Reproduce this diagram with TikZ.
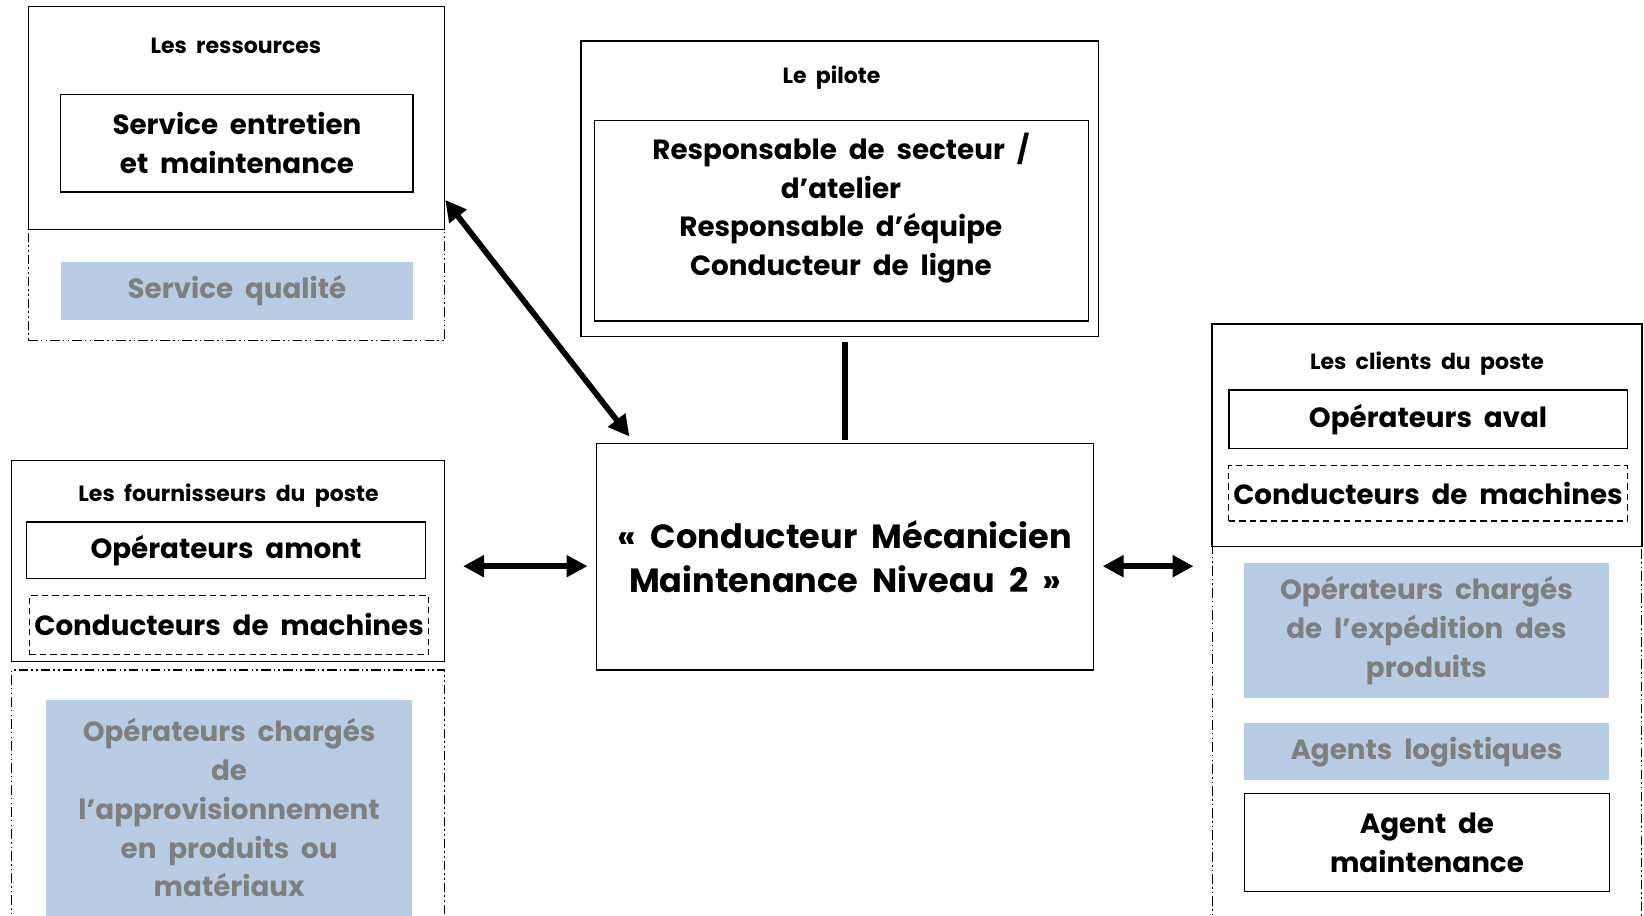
\documentclass[tikz,border=0pt]{standalone}
\usepackage{fontspec}
\setmainfont{Poppins}[WordSpace=2]
\usetikzlibrary{arrows.meta,calc}
\definecolor{greyfill}{HTML}{B8CCE4}
\definecolor{greytext}{HTML}{7F7F7F}
\begin{document}
\begin{tikzpicture}[x=1pt,y=-1pt,
  box/.style={draw, line width=1.3pt, inner sep=0pt},
  dbox/.style={draw, line width=1.2pt, dashed, dash pattern=on 6pt off 4pt, inner sep=0pt},
  ddbox/.style={draw, line width=1pt, dash pattern=on 9pt off 3pt on 1.5pt off 3pt on 1.5pt off 3pt, inner sep=0pt},
  gbox/.style={fill=greyfill, inner sep=0pt, text=greytext, align=center},
  smalltxt/.style={font=\fontsize{21}{24}\selectfont\bfseries, inner sep=0pt},
  bigtxt/.style={font=\fontsize{26.5}{37}\selectfont\bfseries, align=center},
  hugetxt/.style={font=\fontsize{32}{42}\selectfont\bfseries, align=center},
  conn/.style={line width=5.5pt, {Triangle[length=20pt,width=20pt]}-{Triangle[length=20pt,width=20pt]}}
]
\useasboundingbox (0,0) rectangle (1568,873);
\clip (0,0) rectangle (1568,873);

% Les ressources
\node[box, minimum width=397pt, minimum height=213pt] (resOut) at (225.5,112.5) {};
\node[smalltxt] (resT) at (225,44) {Les ressources};
\node[box, bigtxt, minimum width=336pt, minimum height=93pt] (resIn) at (226,136.5) {Service entretien\\et maintenance};
\node[ddbox, minimum width=397pt, minimum height=106pt] (resDD) at (225.5,272) {};
\node[gbox, bigtxt, minimum width=336pt, minimum height=55pt] (qual) at (226,277.5) {Service qualité};

% Le pilote
\node[box, minimum width=494pt, minimum height=282pt] (pilOut) at (801,180) {};
\node[smalltxt] (pilT) at (793,74) {Le pilote};
\node[box, minimum width=471pt, minimum height=191pt] (pilIn) at (802.5,210.5) {};
\node[bigtxt] (pilTxt) at (802,198.5) {Responsable de secteur /\\d’atelier\\Responsable d’équipe\\Conducteur de ligne};

% Central
\node[box, hugetxt, minimum width=474pt, minimum height=216pt] (central) at (806,531) {« Conducteur Mécanicien\\Maintenance Niveau 2 »};

% Fournisseurs
\node[box, minimum width=413pt, minimum height=192pt] (fournOut) at (217.5,535) {};
\node[smalltxt] (fournT) at (218,473) {Les fournisseurs du poste};
\node[box, bigtxt, minimum width=381pt, minimum height=54pt] (amont) at (215.5,525) {Opérateurs amont};
\node[dbox, bigtxt, minimum width=381pt, minimum height=56pt] (fDash) at (218.5,596) {Conducteurs de machines};
\node[ddbox, minimum width=413pt, minimum height=261pt] (fDD) at (217.5,769.5) {};
\node[gbox, minimum width=349pt, minimum height=232pt] (fGrey) at (218.5,784) {};
\node[bigtxt, text=greytext] (fGreyT) at (218.5,770.5) {Opérateurs chargés\\de\\l’approvisionnement\\en produits ou\\matériaux};

% Clients
\node[box, minimum width=410pt, minimum height=212pt] (clOut) at (1361,415) {};
\node[smalltxt] (clT) at (1361,347) {Les clients du poste};
\node[box, bigtxt, minimum width=380pt, minimum height=56pt] (aval) at (1362,400) {Opérateurs aval};
\node[dbox, bigtxt, minimum width=380pt, minimum height=53pt] (cDash) at (1362,470.5) {Conducteurs de machines};
\node[ddbox, minimum width=410pt, minimum height=379pt] (cDD) at (1361,710.5) {};
\node[gbox, bigtxt, minimum width=349pt, minimum height=129pt] (cGrey1) at (1360.5,601.5) {Opérateurs chargés\\de l’expédition des\\produits};
\node[gbox, bigtxt, minimum width=349pt, minimum height=54pt] (cGrey2) at (1360.5,717) {Agents logistiques};
\node[box, bigtxt, minimum width=348pt, minimum height=93pt] (agent) at (1361,803.5) {Agent de\\maintenance};

% Connectors
\coordinate (d1) at ([yshift=29pt]resOut.south east);
\coordinate (d2) at ([xshift=32pt,yshift=6pt]central.north west);
\draw[conn] (d1) -- (d2);
\draw[line width=6pt] ($(pilOut.south)+(5,5)$) -- ($(central.north)+(0,-3)$);
\draw[conn] ($(fournOut.east)+(17,5)$) -- ($(central.west)+(-8,9)$);
\draw[conn] ($(central.east)+(8,9)$) -- ($(clOut.west |- central.east)+(-17,9)$);
\end{tikzpicture}
\end{document}
